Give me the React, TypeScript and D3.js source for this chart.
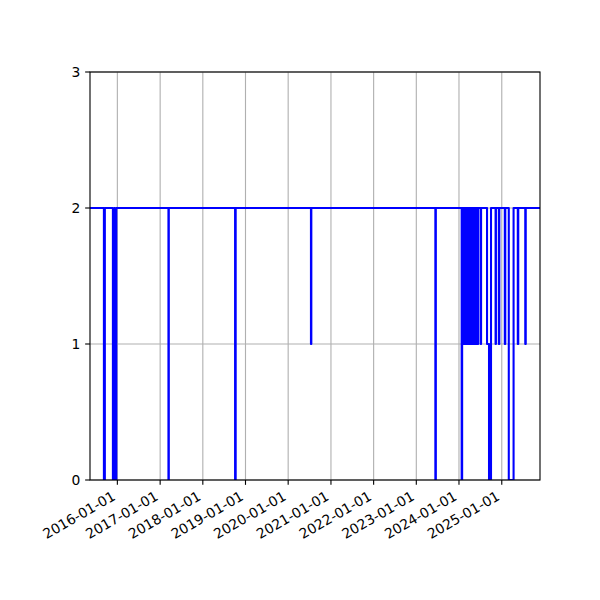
import React from 'react'
import * as d3 from 'd3'

// status series: value holds from each date until the next one
const changeDates = [
	'2015-05-12',
	'2015-09-08', '2015-09-16',
	'2015-11-24', '2015-12-06', '2015-12-11', '2015-12-23',
	'2017-03-13', '2017-03-16',
	'2018-10-04', '2018-10-09',
	'2020-07-14', '2020-07-17',
	'2023-06-13', '2023-06-17',
	'2024-01-24', '2024-01-28',
	'2024-02-01', '2024-02-04', '2024-02-08', '2024-02-11',
	'2024-02-15', '2024-02-18', '2024-02-22', '2024-02-25',
	'2024-02-29', '2024-03-03', '2024-03-07', '2024-03-10',
	'2024-03-14', '2024-03-17', '2024-03-21', '2024-03-24',
	'2024-03-28', '2024-03-31', '2024-04-04', '2024-04-07',
	'2024-04-11', '2024-04-14', '2024-04-18', '2024-04-21',
	'2024-04-25', '2024-04-28', '2024-05-02', '2024-05-05',
	'2024-05-09', '2024-05-12', '2024-05-16', '2024-05-19',
	'2024-05-23', '2024-05-26', '2024-05-30', '2024-06-02',
	'2024-06-06', '2024-06-09', '2024-06-11', '2024-06-13',
	'2024-07-05', '2024-07-08',
	'2024-08-28', '2024-09-14', '2024-10-01',
	'2024-11-09', '2024-11-12',
	'2024-12-07', '2024-12-11',
	'2025-01-27', '2025-01-31',
	'2025-03-02', '2025-04-12',
	'2025-05-18', '2025-05-22',
	'2025-07-21', '2025-07-25',
	'2025-11-24',
]
const statusLevels = [
	2,
	0, 2,
	0, 2, 0, 2,
	0, 2,
	0, 2,
	1, 2,
	0, 2,
	0, 2,
	1, 2, 1, 2,
	1, 2, 1, 2,
	1, 2, 1, 2,
	1, 2, 1, 2,
	1, 2, 1, 2,
	1, 2, 1, 2,
	1, 2, 1, 2,
	1, 2, 1, 2,
	1, 2, 1, 2,
	1, 2, 1, 2,
	1, 2,
	1, 0, 2,
	1, 2,
	1, 2,
	1, 2,
	0, 2,
	1, 2,
	1, 2,
	2,
]
const xDomain = ['2015-05-12', '2025-11-24']
const yTicks = [0, 1, 2, 3]

const plot = { left: 90, right: 540, top: 72, bottom: 480 }
const pt = 100 / 72

const App = () => {
	const parse = d3.utcParse('%Y-%m-%d')
	const fmt = d3.utcFormat('%Y-%m-%d')

	const x = d3
		.scaleUtc()
		.domain(xDomain.map((s) => parse(s)!))
		.range([plot.left, plot.right])
	const y = d3.scaleLinear().domain([0, 3]).range([plot.bottom, plot.top])

	const points = changeDates.map(
		(d, i) => [x(parse(d)!), y(statusLevels[i])] as [number, number]
	)
	const path = d3.line().curve(d3.curveStepAfter)(points) || ''
	const xTicks = x.ticks(d3.utcYear.every(1)!)

	const tickLen = 3.5 * pt
	const font = { fontFamily: 'DejaVu Sans', fontSize: 10 * pt }

	return (
		<svg
			width={600}
			height={600}
			style={{ position: 'absolute', left: 0, top: 0, background: '#fff' }}
		>
			<defs>
				<clipPath id="plotClip">
					<rect
						x={plot.left}
						y={plot.top}
						width={plot.right - plot.left}
						height={plot.bottom - plot.top}
					/>
				</clipPath>
			</defs>
			{/* grid */}
			<g stroke="#b0b0b0" strokeWidth={0.8 * pt}>
				{xTicks.map((t) => (
					<line key={+t} x1={x(t)} x2={x(t)} y1={plot.top} y2={plot.bottom} />
				))}
				{yTicks.map((t) => (
					<line key={t} x1={plot.left} x2={plot.right} y1={y(t)} y2={y(t)} />
				))}
			</g>
			<path
				d={path}
				fill="none"
				stroke="#0000ff"
				strokeWidth={1.5 * pt}
				strokeLinejoin="round"
				clipPath="url(#plotClip)"
			/>
			{/* spines */}
			<rect
				x={plot.left}
				y={plot.top}
				width={plot.right - plot.left}
				height={plot.bottom - plot.top}
				fill="none"
				stroke="#000"
				strokeWidth={0.8 * pt}
			/>
			{/* x axis */}
			<g {...font}>
				{xTicks.map((t) => (
					<g key={+t}>
						<line
							x1={x(t)}
							x2={x(t)}
							y1={plot.bottom}
							y2={plot.bottom + tickLen}
							stroke="#000"
							strokeWidth={0.8 * pt}
						/>
						<text
							transform={`translate(${x(t) - 1},${plot.bottom + 19}) rotate(-30)`}
							textAnchor="end"
							fill="#000"
						>
							{fmt(t)}
						</text>
					</g>
				))}
			</g>
			{/* y axis */}
			<g {...font}>
				{yTicks.map((t) => (
					<g key={t}>
						<line
							x1={plot.left - tickLen}
							x2={plot.left}
							y1={y(t)}
							y2={y(t)}
							stroke="#000"
							strokeWidth={0.8 * pt}
						/>
						<text
							x={plot.left - tickLen - 3.5 * pt}
							y={y(t)}
							dy="0.35em"
							textAnchor="end"
							fill="#000"
						>
							{t}
						</text>
					</g>
				))}
			</g>
		</svg>
	)
}

export default App
